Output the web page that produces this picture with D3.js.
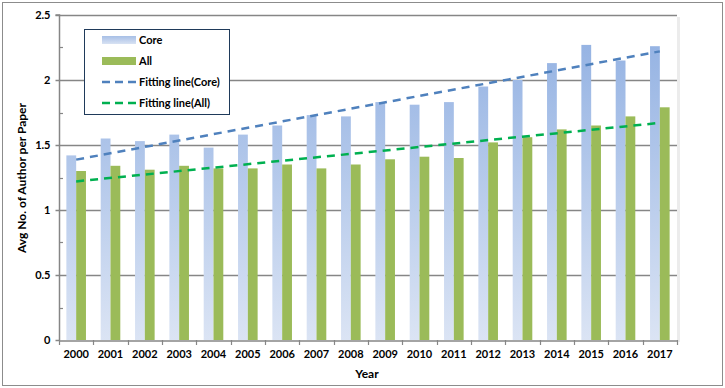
<!DOCTYPE html>
<html><head><meta charset="utf-8">
<script src="https://cdn.jsdelivr.net/npm/d3@7"></script>
<style>body{margin:0;background:#fff}svg{display:block}text{font-family:Lato,"Open Sans",sans-serif;font-weight:bold;fill:#000}</style>
</head><body>
<svg id="c" width="725" height="388"></svg>
<script>
const years = ["2000","2001","2002","2003","2004","2005","2006","2007","2008","2009","2010","2011","2012","2013","2014","2015","2016","2017"];
const coreValues = [1.42,1.55,1.53,1.58,1.48,1.58,1.65,1.73,1.72,1.83,1.81,1.83,1.95,2.00,2.13,2.27,2.15,2.26];
const allValues = [1.30,1.34,1.31,1.34,1.32,1.32,1.35,1.32,1.35,1.39,1.41,1.40,1.52,1.56,1.62,1.65,1.72,1.79];
const yTicks = [0,0.5,1,1.5,2,2.5];
const yMinor = [0.25,0.75,1.25,1.75,2.25];
const seriesNames = ["Core","All","Fitting line(Core)","Fitting line(All)"];

const svg = d3.select("#c");
const L=59, R=677, T=15, B=340;
const x = d3.scaleBand().domain(years).range([L,R]).paddingInner(0).paddingOuter(0);
const y = d3.scaleLinear().domain([0,2.5]).range([B,T]);
const bw = 9.8;

const defs = svg.append("defs");
const g1 = defs.append("linearGradient").attr("id","coreGrad").attr("gradientUnits","userSpaceOnUse")
  .attr("x1",0).attr("y1",y(2.3)).attr("x2",0).attr("y2",B);
g1.append("stop").attr("offset","0").attr("stop-color","#95b3e3");
g1.append("stop").attr("offset","1").attr("stop-color","#dbe4f4");
const g2 = defs.append("linearGradient").attr("id","legGrad").attr("x1",0).attr("y1",0).attr("x2",0).attr("y2",1);
g2.append("stop").attr("offset","0").attr("stop-color","#a7bfe6");
g2.append("stop").attr("offset","1").attr("stop-color","#d8e2f3");

// outer border
svg.append("rect").attr("x",2.5).attr("y",2.5).attr("width",720).attr("height",383)
  .attr("fill","#fff").attr("stroke","#8c8c8c").attr("stroke-width",1);

// plot shadow on right
svg.append("rect").attr("x",R).attr("y",T+2).attr("width",3).attr("height",B-T).attr("fill","#ececec");

// gridlines
svg.append("g").selectAll("line").data(yTicks.filter(d=>d>0)).join("line")
  .attr("x1",L).attr("x2",R).attr("y1",d=>Math.round(y(d))+0.5).attr("y2",d=>Math.round(y(d))+0.5)
  .attr("stroke","#868686").attr("stroke-width",1.5);

// bars
const bars = svg.append("g");
bars.selectAll("rect.core").data(coreValues).join("rect").attr("class","core")
  .attr("x",(d,i)=>x(years[i])+x.bandwidth()/2-bw).attr("width",bw)
  .attr("y",d=>y(d)).attr("height",d=>B-y(d)).attr("fill","url(#coreGrad)");
bars.selectAll("rect.all").data(allValues).join("rect").attr("class","all")
  .attr("x",(d,i)=>x(years[i])+x.bandwidth()/2).attr("width",bw)
  .attr("y",d=>y(d)).attr("height",d=>B-y(d)).attr("fill","#9bbb59");

// fitting lines via least squares
function fit(vals){
  const n=vals.length, xs=vals.map((d,i)=>i);
  const mx=d3.mean(xs), my=d3.mean(vals);
  let sxy=0,sxx=0; xs.forEach((xi,i)=>{sxy+=(xi-mx)*(vals[i]-my);sxx+=(xi-mx)*(xi-mx);});
  const b=sxy/sxx, a=my-b*mx;
  return [[0,a],[n-1,a+b*(n-1)]];
}
const line = d3.line().x(d=>x(years[d[0]])+x.bandwidth()/2).y(d=>y(d[1]));
svg.append("path").attr("d",line(fit(coreValues))).attr("fill","none")
  .attr("stroke","#4f81bd").attr("stroke-width",2.5).attr("stroke-dasharray","8,6");
svg.append("path").attr("d",line(fit(allValues))).attr("fill","none")
  .attr("stroke","#00b050").attr("stroke-width",2.5).attr("stroke-dasharray","8,6");

// y axis
const ya = svg.append("g").attr("transform",`translate(${L+0.5},0)`)
  .call(d3.axisLeft(y).tickValues(yTicks).tickFormat(d3.format("")).tickSize(4).tickPadding(5));
ya.select(".domain").attr("stroke","#868686").attr("stroke-width",1.5).attr("d",`M-4,${T}H0V${B}`);
ya.selectAll(".tick line").attr("stroke","#868686").attr("stroke-width",1.5);
ya.selectAll(".tick text").attr("font-size",11).attr("font-family","Lato").attr("font-weight","bold").attr("fill","#000");
svg.append("g").selectAll("line").data(yMinor).join("line")
  .attr("x1",L).attr("x2",L+4).attr("y1",d=>Math.round(y(d))+0.5).attr("y2",d=>Math.round(y(d))+0.5)
  .attr("stroke","#868686").attr("stroke-width",1.2);

// x axis
const xa = svg.append("g").attr("transform",`translate(0,${B+0.5})`)
  .call(d3.axisBottom(x).tickSize(0).tickPadding(10));
xa.select(".domain").attr("stroke","#868686").attr("stroke-width",1.5);
xa.selectAll(".tick text").attr("font-size",11).attr("font-family","Lato").attr("font-weight","bold").attr("fill","#000");
svg.append("g").selectAll("line").data(d3.range(years.length+1)).join("line")
  .attr("x1",i=>Math.round(L+i*x.bandwidth())+0.5).attr("x2",i=>Math.round(L+i*x.bandwidth())+0.5)
  .attr("y1",B).attr("y2",B+5).attr("stroke","#868686").attr("stroke-width",1.2);

// axis titles
svg.append("text").attr("x",367).attr("y",378).attr("text-anchor","middle").attr("font-size",12).text("Year");
svg.append("text").attr("transform","translate(26,178) rotate(-90)").attr("text-anchor","middle")
  .attr("font-size",12).text("Avg No. of Author per Paper");

// legend
const lg = svg.append("g");
lg.append("rect").attr("x",84.5).attr("y",29.5).attr("width",145).attr("height",85)
  .attr("fill","#fff").attr("stroke","#1f3a5a").attr("stroke-width",1);
const ly = [40,61,82,103];
const fills = ["url(#legGrad)","#9bbb59"];
seriesNames.forEach((nm,i)=>{
  if(i<2){
    lg.append("rect").attr("x",102).attr("y",ly[i]-4).attr("width",34).attr("height",8).attr("fill",fills[i]);
  } else {
    lg.append("line").attr("x1",102).attr("x2",136).attr("y1",ly[i]).attr("y2",ly[i])
      .attr("stroke",i===2?"#4f81bd":"#00b050").attr("stroke-width",2.5).attr("stroke-dasharray","8,5");
  }
  lg.append("text").attr("x",139).attr("y",ly[i]+4).attr("font-size",11).text(nm);
});
</script>
</body></html>
